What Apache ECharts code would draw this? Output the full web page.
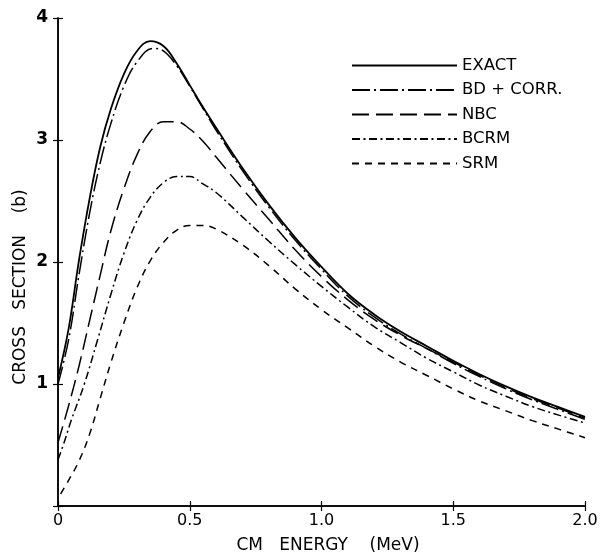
<!DOCTYPE html>
<html>
<head>
<meta charset="utf-8">
<script src="https://cdn.jsdelivr.net/npm/echarts@6.0.0/dist/echarts.min.js"></script>
<style>
html,body{margin:0;padding:0;background:#fff;}
#chart{width:601px;height:556px;}
</style>
</head>
<body>
<div id="chart"></div>
<script>
var seriesNames = ['EXACT', 'BD + CORR.', 'NBC', 'BCRM', 'SRM'];
var xTicks = [0, 0.5, 1.0, 1.5, 2.0];
var yTicks = [0, 1, 2, 3, 4];

var exactData = [[0,1.05],[0.04,1.45],[0.08,2.02],[0.12,2.52],[0.16,2.94],[0.2,3.25],[0.25,3.54],[0.3,3.73],[0.35,3.81],[0.4,3.77],[0.45,3.63],[0.5,3.45],[0.55,3.27],[0.6,3.10],[0.7,2.77],[0.8,2.47],[0.9,2.20],[1.0,1.96],[1.1,1.74],[1.2,1.57],[1.3,1.43],[1.4,1.31],[1.5,1.19],[1.6,1.08],[1.7,0.98],[1.8,0.89],[1.9,0.81],[2.0,0.73]];

var bdCorrData = [[0,1.0],[0.04,1.36],[0.08,1.90],[0.12,2.40],[0.16,2.81],[0.2,3.13],[0.25,3.44],[0.3,3.64],[0.36,3.75],[0.4,3.73],[0.45,3.61],[0.5,3.44],[0.55,3.26],[0.6,3.08],[0.7,2.75],[0.8,2.45],[0.9,2.18],[1.0,1.94],[1.1,1.72],[1.2,1.55],[1.3,1.41],[1.4,1.29],[1.5,1.17],[1.6,1.06],[1.7,0.96],[1.8,0.87],[1.9,0.79],[2.0,0.71]];

var nbcData = [[0,0.52],[0.04,0.82],[0.08,1.15],[0.12,1.52],[0.16,1.89],[0.2,2.25],[0.25,2.60],[0.3,2.88],[0.35,3.07],[0.4,3.15],[0.45,3.15],[0.5,3.09],[0.55,2.99],[0.6,2.86],[0.7,2.60],[0.8,2.35],[0.9,2.10],[1.0,1.88],[1.1,1.69],[1.2,1.53],[1.3,1.40],[1.4,1.29],[1.5,1.18],[1.6,1.07],[1.7,0.97],[1.8,0.88],[1.9,0.80],[2.0,0.72]];

var bcrmData = [[0,0.38],[0.02,0.50],[0.05,0.70],[0.1,1.00],[0.15,1.36],[0.2,1.73],[0.25,2.07],[0.3,2.34],[0.35,2.53],[0.4,2.65],[0.45,2.70],[0.5,2.70],[0.55,2.64],[0.6,2.57],[0.7,2.37],[0.8,2.17],[0.9,1.98],[1.0,1.80],[1.1,1.63],[1.2,1.47],[1.3,1.34],[1.4,1.21],[1.5,1.10],[1.6,0.99],[1.7,0.90],[1.8,0.815],[1.9,0.745],[2.0,0.68]];

var srmData = [[0.01,0.10],[0.04,0.21],[0.08,0.37],[0.12,0.59],[0.16,0.88],[0.2,1.17],[0.25,1.50],[0.3,1.79],[0.35,2.01],[0.4,2.16],[0.45,2.26],[0.5,2.30],[0.55,2.30],[0.6,2.27],[0.7,2.14],[0.8,1.97],[0.9,1.78],[1.0,1.61],[1.1,1.46],[1.2,1.31],[1.3,1.18],[1.4,1.07],[1.5,0.96],[1.6,0.86],[1.7,0.78],[1.8,0.70],[1.9,0.63],[2.0,0.56]];

var chart = echarts.init(document.getElementById('chart'), null, {renderer: 'canvas'});
var font = '"DejaVu Sans", sans-serif';

function mkSeries(name, data, dash, width) {
  return {
    name: name, type: 'line', data: data, smooth: 0.4, symbol: 'none',
    lineStyle: {color: '#000', width: width, type: dash, cap: 'butt'},
    itemStyle: {color: '#000'},
    emphasis: {disabled: true}, z: 3
  };
}

var option = {
  animation: false,
  backgroundColor: '#fff',
  grid: {left: 58, right: 16, top: 18, bottom: 50, containLabel: false},
  legend: {
    orient: 'vertical', left: 346, top: 52,
    itemWidth: 105, itemHeight: 14, itemGap: 7.5,
    data: seriesNames,
    itemStyle: {opacity: 0},
    textStyle: {color: '#000', fontSize: 16.5, fontFamily: font},
    selectedMode: false
  },
  xAxis: [{
    type: 'value', min: 0, max: 2, interval: 0.5, position: 'bottom',
    axisLine: {lineStyle: {color: '#000', width: 1.5}},
    axisTick: {inside: true, length: 5, lineStyle: {color: '#000', width: 1.2}},
    axisLabel: {color: '#000', fontSize: 16, fontFamily: font, margin: 7,
      formatter: function (v) { return v === 0 ? '0' : v.toFixed(1); }},
    splitLine: {show: false}
  }, {
    type: 'value', min: 0, max: 2, interval: 0.5, position: 'top',
    axisLine: {lineStyle: {color: '#000', width: 1.5}},
    axisTick: {inside: true, length: 5, lineStyle: {color: '#000', width: 1.2}},
    axisLabel: {show: false}, splitLine: {show: false}
  }],
  yAxis: [{
    type: 'value', min: 0, max: 4, interval: 1, position: 'left',
    axisLine: {lineStyle: {color: '#000', width: 1.5}},
    axisTick: {inside: true, length: 5, lineStyle: {color: '#000', width: 1.2}},
    axisLabel: {color: '#000', fontSize: 17, fontWeight: 'bold', fontFamily: font, margin: 10,
      formatter: function (v) { return v === 0 ? '' : String(v); }},
    splitLine: {show: false}
  }, {
    type: 'value', min: 0, max: 4, interval: 1, position: 'right',
    axisLine: {lineStyle: {color: '#000', width: 1.5}},
    axisTick: {inside: true, length: 5, lineStyle: {color: '#000', width: 1.2}},
    axisLabel: {show: false}, splitLine: {show: false}
  }],
  graphic: [{
    type: 'text', x: 328, y: 546,
    style: {text: 'CM   ENERGY    (MeV)', fill: '#000', font: '17px ' + font, align: 'center', verticalAlign: 'middle'}
  }, {
    type: 'text', x: 21, y: 287, rotation: Math.PI / 2,
    style: {text: 'CROSS   SECTION    (b)', fill: '#000', font: '17px ' + font, align: 'center', verticalAlign: 'middle'}
  }],
  series: [
    mkSeries(seriesNames[0], exactData, 'solid', 1.8),
    mkSeries(seriesNames[1], bdCorrData, [18, 4, 2, 4], 1.5),
    mkSeries(seriesNames[2], nbcData, [17, 7], 1.5),
    mkSeries(seriesNames[3], bcrmData, [8, 3.5, 2, 3.5], 1.5),
    mkSeries(seriesNames[4], srmData, [7, 6], 1.5)
  ]
};
chart.setOption(option);
</script>
</body>
</html>
